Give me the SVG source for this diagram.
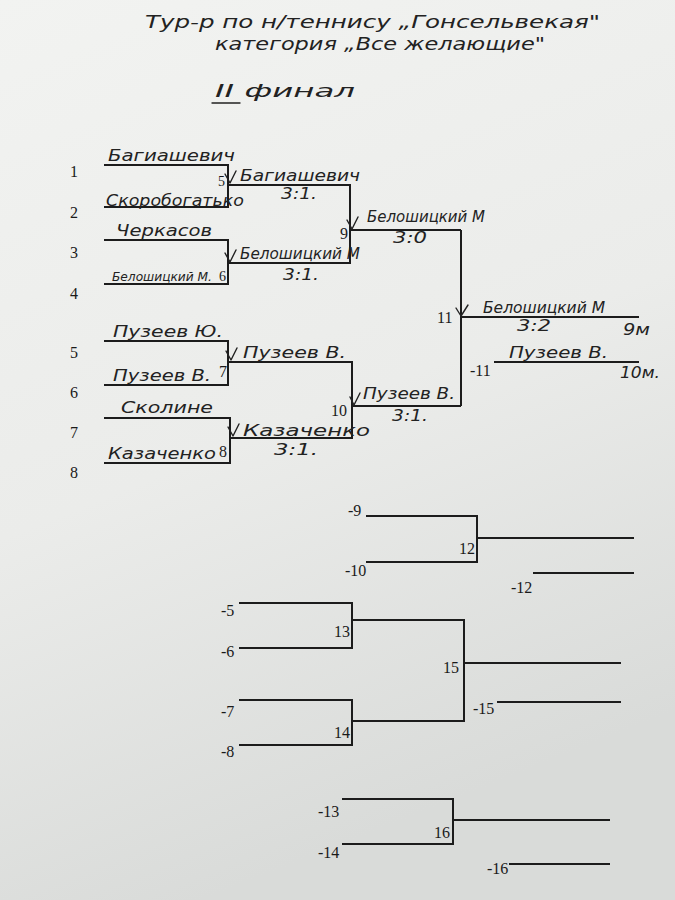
<svg xmlns="http://www.w3.org/2000/svg" width="675" height="900" viewBox="0 0 675 900">
<defs>
<linearGradient id="bg" x1="0" y1="0" x2="0.3" y2="1">
<stop offset="0" stop-color="#f2f3f1"/>
<stop offset="0.55" stop-color="#ebecea"/>
<stop offset="1" stop-color="#d9dbd9"/>
</linearGradient>
<style>
.ln{stroke:#1c1c1c;stroke-width:2;fill:none}
.num{font-family:"Liberation Serif","Times New Roman",serif;font-size:16px;fill:#1a1a1a}
.hw{font-family:"DejaVu Sans","Liberation Sans",sans-serif;font-style:italic;font-size:15px;fill:#222}
.ck{stroke:#222;stroke-width:1.4;fill:none;stroke-linecap:round;stroke-linejoin:round}
</style>
</defs>
<rect width="675" height="900" fill="url(#bg)"/>

<g id="title">
<text class="hw" x="145" y="28" textLength="455" lengthAdjust="spacingAndGlyphs" style="font-size:18px">Тур-р по н/теннису „Гонсельвекая"</text>
<text class="hw" x="215" y="50" textLength="330" lengthAdjust="spacingAndGlyphs" style="font-size:18px">категория „Все желающие"</text>
<text class="hw" x="215" y="97" textLength="140" lengthAdjust="spacingAndGlyphs" style="font-size:18px">II финал</text>
<line x1="212" y1="103" x2="240" y2="103" class="ck"/>
</g>

<g id="connectors">
<polyline class="ln" points="104,165 228,165 228,207 104,207"/>
<polyline class="ln" points="104,240 228,240 228,284 104,284"/>
<polyline class="ln" points="228,185 350,185 350,263 228,263"/>
<line class="ln" x1="350" y1="230" x2="461" y2="230"/>
<polyline class="ln" points="104,341 228,341 228,385 104,385"/>
<polyline class="ln" points="104,418 230,418 230,463 104,463"/>
<polyline class="ln" points="228,362 352,362 352,438 230,438"/>
<line class="ln" x1="352" y1="406" x2="461" y2="406"/>
<line class="ln" x1="461" y1="230" x2="461" y2="406"/>
<line class="ln" x1="461" y1="317" x2="639" y2="317"/>
<line class="ln" x1="494" y1="362" x2="639" y2="362"/>

<polyline class="ln" points="366,516 477,516 477,562 366,562"/>
<line class="ln" x1="477" y1="538" x2="634" y2="538"/>
<line class="ln" x1="533" y1="573" x2="634" y2="573"/>

<polyline class="ln" points="239,603 352,603 352,648 239,648"/>
<polyline class="ln" points="239,700 352,700 352,745 239,745"/>
<polyline class="ln" points="352,620 464,620 464,721 352,721"/>
<line class="ln" x1="464" y1="663" x2="621" y2="663"/>
<line class="ln" x1="497" y1="702" x2="621" y2="702"/>

<polyline class="ln" points="342,799 453,799 453,844 342,844"/>
<line class="ln" x1="453" y1="820" x2="610" y2="820"/>
<line class="ln" x1="509" y1="864" x2="610" y2="864"/>
</g>

<g id="seeds">
<text class="num" x="70" y="177">1</text>
<text class="num" x="70" y="218">2</text>
<text class="num" x="70" y="258">3</text>
<text class="num" x="70" y="299">4</text>
<text class="num" x="70" y="358">5</text>
<text class="num" x="70" y="398">6</text>
<text class="num" x="70" y="438">7</text>
<text class="num" x="70" y="478">8</text>
</g>

<g id="players">
<text class="hw" x="108" y="161" textLength="127" lengthAdjust="spacingAndGlyphs">Багиашевич</text>
<text class="hw" x="106" y="206" textLength="138" lengthAdjust="spacingAndGlyphs">Скоробогатько</text>
<text class="hw" x="116" y="236" textLength="96" lengthAdjust="spacingAndGlyphs">Черкасов</text>
<text class="hw" x="112" y="281" style="font-size:12px" textLength="100" lengthAdjust="spacingAndGlyphs">Белошицкий М.</text>
<text class="hw" x="113" y="337" textLength="110" lengthAdjust="spacingAndGlyphs">Пузеев Ю.</text>
<text class="hw" x="113" y="381" textLength="98" lengthAdjust="spacingAndGlyphs">Пузеев В.</text>
<text class="hw" x="121" y="413" textLength="92" lengthAdjust="spacingAndGlyphs">Сколине</text>
<text class="hw" x="108" y="459" textLength="108" lengthAdjust="spacingAndGlyphs">Казаченко</text>
</g>

<g id="m5">
<text class="num" x="218" y="186" style="font-size:14px">5</text>
<path class="ck" d="M225,174 L230,183 L236,171"/>
<text class="hw" x="240" y="181" textLength="120" lengthAdjust="spacingAndGlyphs">Багиашевич</text>
<text class="hw" x="281" y="199" textLength="36" lengthAdjust="spacingAndGlyphs">3:1.</text>
</g>
<g id="m6">
<text class="num" x="219" y="281" style="font-size:14px">6</text>
<path class="ck" d="M225,253 L230,262 L236,250"/>
<text class="hw" x="240" y="259" textLength="120" lengthAdjust="spacingAndGlyphs">Белошицкий М</text>
<text class="hw" x="283" y="280" textLength="36" lengthAdjust="spacingAndGlyphs">3:1.</text>
</g>
<g id="m7">
<text class="num" x="219" y="377">7</text>
<path class="ck" d="M226,351 L231,360 L237,348"/>
<text class="hw" x="243" y="358" textLength="103" lengthAdjust="spacingAndGlyphs">Пузеев В.</text>
</g>
<g id="m8">
<text class="num" x="219" y="457">8</text>
<path class="ck" d="M228,427 L233,436 L239,424"/>
<text class="hw" x="243" y="436" textLength="127" lengthAdjust="spacingAndGlyphs">Казаченко</text>
<text class="hw" x="274" y="455" textLength="44" lengthAdjust="spacingAndGlyphs">3:1.</text>
</g>
<g id="m9">
<text class="num" x="340" y="239">9</text>
<path class="ck" d="M347,220 L352,229 L358,217"/>
<text class="hw" x="367" y="222" textLength="118" lengthAdjust="spacingAndGlyphs">Белошицкий М</text>
<text class="hw" x="393" y="243" textLength="34" lengthAdjust="spacingAndGlyphs">3:0</text>
</g>
<g id="m10">
<text class="num" x="331" y="416">10</text>
<path class="ck" d="M350,397 L354,405 L360,393"/>
<text class="hw" x="363" y="399" textLength="92" lengthAdjust="spacingAndGlyphs">Пузеев В.</text>
<text class="hw" x="392" y="421" textLength="36" lengthAdjust="spacingAndGlyphs">3:1.</text>
</g>
<g id="m11">
<text class="num" x="437" y="323">11</text>
<path class="ck" d="M456,308 L461,316 L468,305"/>
<text class="hw" x="483" y="313" textLength="122" lengthAdjust="spacingAndGlyphs">Белошицкий М</text>
<text class="hw" x="517" y="331" textLength="34" lengthAdjust="spacingAndGlyphs">3:2</text>
<text class="hw" x="623" y="335" textLength="27" lengthAdjust="spacingAndGlyphs">9м</text>
</g>
<g id="l11">
<text class="num" x="470" y="376">-11</text>
<text class="hw" x="509" y="358" textLength="99" lengthAdjust="spacingAndGlyphs">Пузеев В.</text>
<text class="hw" x="620" y="378" textLength="40" lengthAdjust="spacingAndGlyphs">10м.</text>
</g>

<g id="m12">
<text class="num" x="348" y="516">-9</text>
<text class="num" x="345" y="576">-10</text>
<text class="num" x="459" y="554">12</text>
<text class="num" x="511" y="593">-12</text>
</g>
<g id="m13">
<text class="num" x="221" y="616">-5</text>
<text class="num" x="221" y="657">-6</text>
<text class="num" x="334" y="637">13</text>
</g>
<g id="m14">
<text class="num" x="221" y="717">-7</text>
<text class="num" x="221" y="757">-8</text>
<text class="num" x="334" y="738">14</text>
</g>
<g id="m15">
<text class="num" x="443" y="673">15</text>
<text class="num" x="473" y="714">-15</text>
</g>
<g id="m16">
<text class="num" x="318" y="817">-13</text>
<text class="num" x="318" y="858">-14</text>
<text class="num" x="434" y="838">16</text>
<text class="num" x="487" y="874">-16</text>
</g>
</svg>
